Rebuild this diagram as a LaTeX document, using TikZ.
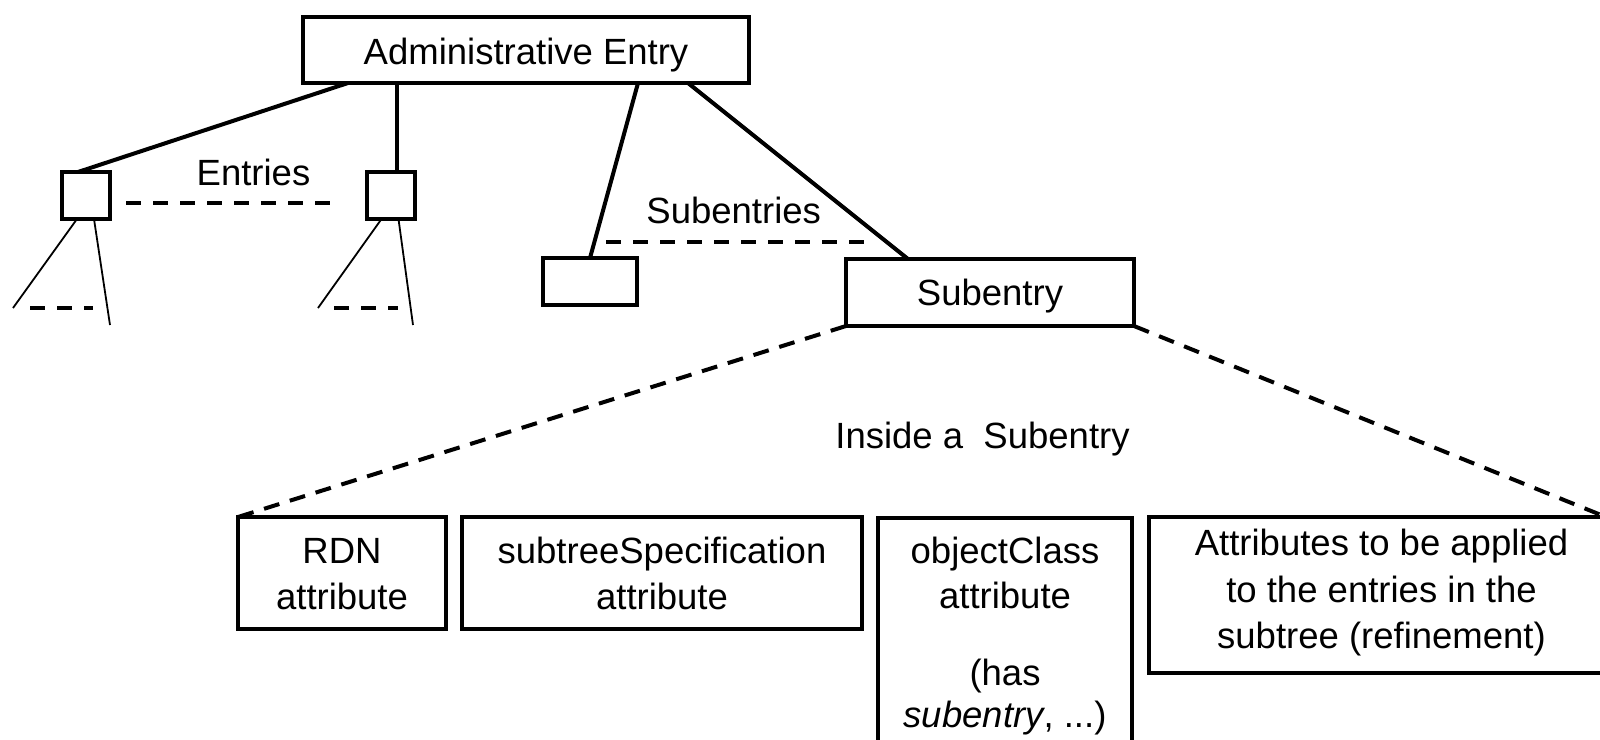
\documentclass[tikz,border=0pt]{standalone}
\usepackage{fontspec}
\setmainfont{Liberation Sans}
\usetikzlibrary{calc}
\begin{document}
\begin{tikzpicture}[x=1pt,y=-1pt,
  box/.style={draw, line width=4pt, inner sep=0pt, outer sep=0pt},
  lbl/.style={anchor=base, inner sep=0pt, font=\fontsize{36.5}{44}\selectfont},
  thinline/.style={line width=1.8pt},
  dsh/.style={line width=4pt, dash pattern=on 15pt off 12pt},
  conn/.style={line width=4pt}]
\useasboundingbox (0,0) rectangle (1600,739);
% boxes
\node[box, minimum width=446pt, minimum height=66pt] (admin) at (526,50) {};
\node[box, minimum width=48pt, minimum height=47pt] (e1) at (86,195.5) {};
\node[box, minimum width=48pt, minimum height=47pt] (e2) at (390.5,195.5) {};
\node[box, minimum width=94pt, minimum height=47pt] (s1) at (590,281.5) {};
\node[box, minimum width=288pt, minimum height=67pt] (sub) at (990,292.5) {};
\node[box, minimum width=208pt, minimum height=112pt] (rdn) at (342,573) {};
\node[box, minimum width=400pt, minimum height=112pt] (spec) at (662,573) {};
\node[box, minimum width=254pt, minimum height=262pt] (oc) at (1005,649) {};
\node[box, minimum width=457pt, minimum height=156pt] (attr) at (1377.5,595) {};
% connectors
\draw[conn] ($(admin.south west)+(45,0)$) -- ($(e1.north west)+(16,0)$);
\draw[conn] ($(admin.south west)+(94,0)$) -- ($(e2.north west)+(30.5,0)$);
\draw[conn] ($(admin.south west)+(335,0)$) -- (s1.north);
\draw[conn] ($(admin.south west)+(385,0)$) -- ($(sub.north west)+(62,0)$);
% subtrees below entries
\coordinate (e1l) at (13,308);
\coordinate (e1r) at (110,325);
\coordinate (e1a) at (30,308);
\coordinate (e1b) at (93,308);
\draw[thinline] ($(e1.south west)+(15,0)$) -- (e1l);
\draw[thinline] ($(e1.south west)+(32,0)$) -- (e1r);
\draw[dsh] (e1a) -- (e1b);
\coordinate (e2l) at (318,308);
\coordinate (e2r) at (413,325);
\coordinate (e2a) at (334,308);
\coordinate (e2b) at (398,308);
\draw[thinline] ($(e2.south west)+(15,0)$) -- (e2l);
\draw[thinline] ($(e2.south west)+(32,0)$) -- (e2r);
\draw[dsh] (e2a) -- (e2b);
% dashed sibling lines
\coordinate (ea) at (126,203);
\coordinate (eb) at (338,203);
\draw[dsh] (ea) -- (eb);
\coordinate (sa) at (606,242);
\coordinate (sb) at (873,242);
\draw[dsh] (sa) -- (sb);
% zoom lines
\draw[dsh, dash pattern=on 16pt off 11pt] (sub.south west) -- (rdn.north west);
\draw[dsh, dash pattern=on 16pt off 11pt] (sub.south east) -- (attr.north east);
% texts
\node[lbl] (admint) at (526,64) {Administrative Entry};
\node[lbl] (entt) at (253.5,185) {Entries};
\node[lbl] (subst) at (733.7,223) {Subentries};
\node[lbl] (subt) at (990,305) {Subentry};
\node[lbl] (inst) at (982.5,448) {Inside a~ Subentry};
\node[lbl] (rdn1) at (342,563) {RDN};
\node[lbl] (rdn2) at (342,609) {attribute};
\node[lbl] (spec1) at (662,563) {subtreeSpecification};
\node[lbl] (spec2) at (662,609) {attribute};
\node[lbl] (oc1) at (1005,563) {objectClass};
\node[lbl] (oc2) at (1005,608) {attribute};
\node[lbl] (oc3) at (1005,685) {(has};
\node[lbl] (oc4) at (1005,727) {\textit{subentry}, ...)};
\node[lbl] (at1) at (1381.5,555) {Attributes to be applied};
\node[lbl] (at2) at (1381.5,602) {to the entries in the};
\node[lbl] (at3) at (1381.5,648) {subtree (refinement)};
\end{tikzpicture}
\end{document}
